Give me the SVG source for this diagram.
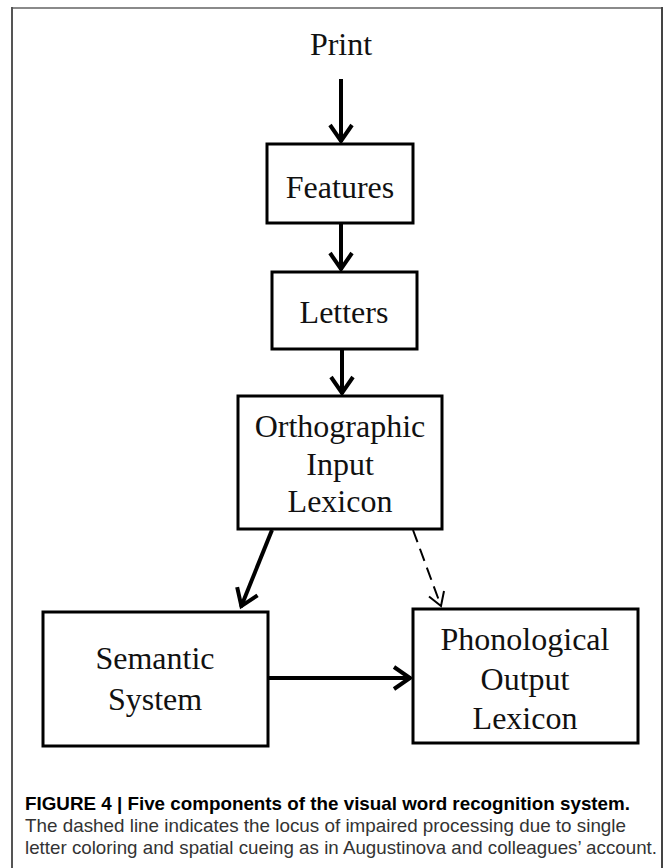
<svg xmlns="http://www.w3.org/2000/svg" width="671" height="868" viewBox="0 0 671 868">
<style>
.box{fill:#fff;stroke:#000;stroke-width:3}
.lbl{font-family:"Liberation Serif","Times New Roman",serif;font-size:32px;fill:#111;text-anchor:middle}
.arr{stroke:#000;stroke-width:4;fill:none}
.dash{stroke:#000;stroke-width:2;fill:none;stroke-dasharray:13 7}
.cap{font-family:"Liberation Sans Narrow","Liberation Sans",Arial,sans-serif;font-size:19px}
</style>
<defs>
<marker id="ah" markerUnits="userSpaceOnUse" markerWidth="40" markerHeight="40" viewBox="-20 -20 40 40" refX="0" refY="0" orient="auto">
<path d="M-17,-11 L-1,0 L-17,11" fill="none" stroke="#000" stroke-width="4"/>
</marker>
<marker id="ahd" markerUnits="userSpaceOnUse" markerWidth="40" markerHeight="40" viewBox="-20 -20 40 40" refX="0" refY="0" orient="auto">
<path d="M-13,-8 L0,0 L-13,8" fill="none" stroke="#000" stroke-width="2"/>
</marker>
</defs>
<rect width="671" height="868" fill="#fff"/>
<g id="frame">
<line x1="12" y1="8" x2="662" y2="8" stroke="#8a8a8a" stroke-width="2"/>
<line x1="12" y1="7" x2="12" y2="868" stroke="#555" stroke-width="2"/>
<line x1="662" y1="7" x2="662" y2="868" stroke="#444" stroke-width="2"/>
</g>
<g id="print"><text class="lbl" x="341" y="55">Print</text></g>
<g id="features"><rect class="box" x="267" y="144" width="146" height="79"/><text class="lbl" x="340" y="198">Features</text></g>
<g id="letters"><rect class="box" x="272" y="272" width="145" height="77"/><text class="lbl" x="344" y="323">Letters</text></g>
<g id="orthographic"><rect class="box" x="238" y="396" width="204" height="133"/><text class="lbl" x="340" y="437">Orthographic</text><text class="lbl" x="340" y="475">Input</text><text class="lbl" x="340" y="512">Lexicon</text></g>
<g id="semantic"><rect class="box" x="43" y="612" width="225" height="134"/><text class="lbl" x="155" y="669">Semantic</text><text class="lbl" x="155" y="710">System</text></g>
<g id="phonological"><rect class="box" x="413" y="609" width="225" height="134"/><text class="lbl" x="525" y="650">Phonological</text><text class="lbl" x="525" y="690">Output</text><text class="lbl" x="525" y="729">Lexicon</text></g>
<g id="connectors">
<line class="arr" x1="341" y1="79" x2="341" y2="142" marker-end="url(#ah)"/>
<line class="arr" x1="341" y1="224" x2="341" y2="270" marker-end="url(#ah)"/>
<line class="arr" x1="342" y1="350" x2="342" y2="394" marker-end="url(#ah)"/>
<line class="arr" x1="272" y1="530" x2="241" y2="607" marker-end="url(#ah)"/>
<line class="dash" x1="413" y1="530" x2="441" y2="606" marker-end="url(#ahd)"/>
<line class="arr" x1="269" y1="678" x2="411" y2="678" marker-end="url(#ah)"/>
</g>
<g id="caption">
<text class="cap" x="25" y="810" font-weight="bold" fill="#000" textLength="605" lengthAdjust="spacingAndGlyphs">FIGURE 4 | Five components of the visual word recognition system.</text>
<text class="cap" x="25" y="832" fill="#333" textLength="601" lengthAdjust="spacingAndGlyphs">The dashed line indicates the locus of impaired processing due to single</text>
<text class="cap" x="25" y="854" fill="#333" textLength="632" lengthAdjust="spacingAndGlyphs">letter coloring and spatial cueing as in Augustinova and colleagues’ account.</text>
</g>
</svg>
